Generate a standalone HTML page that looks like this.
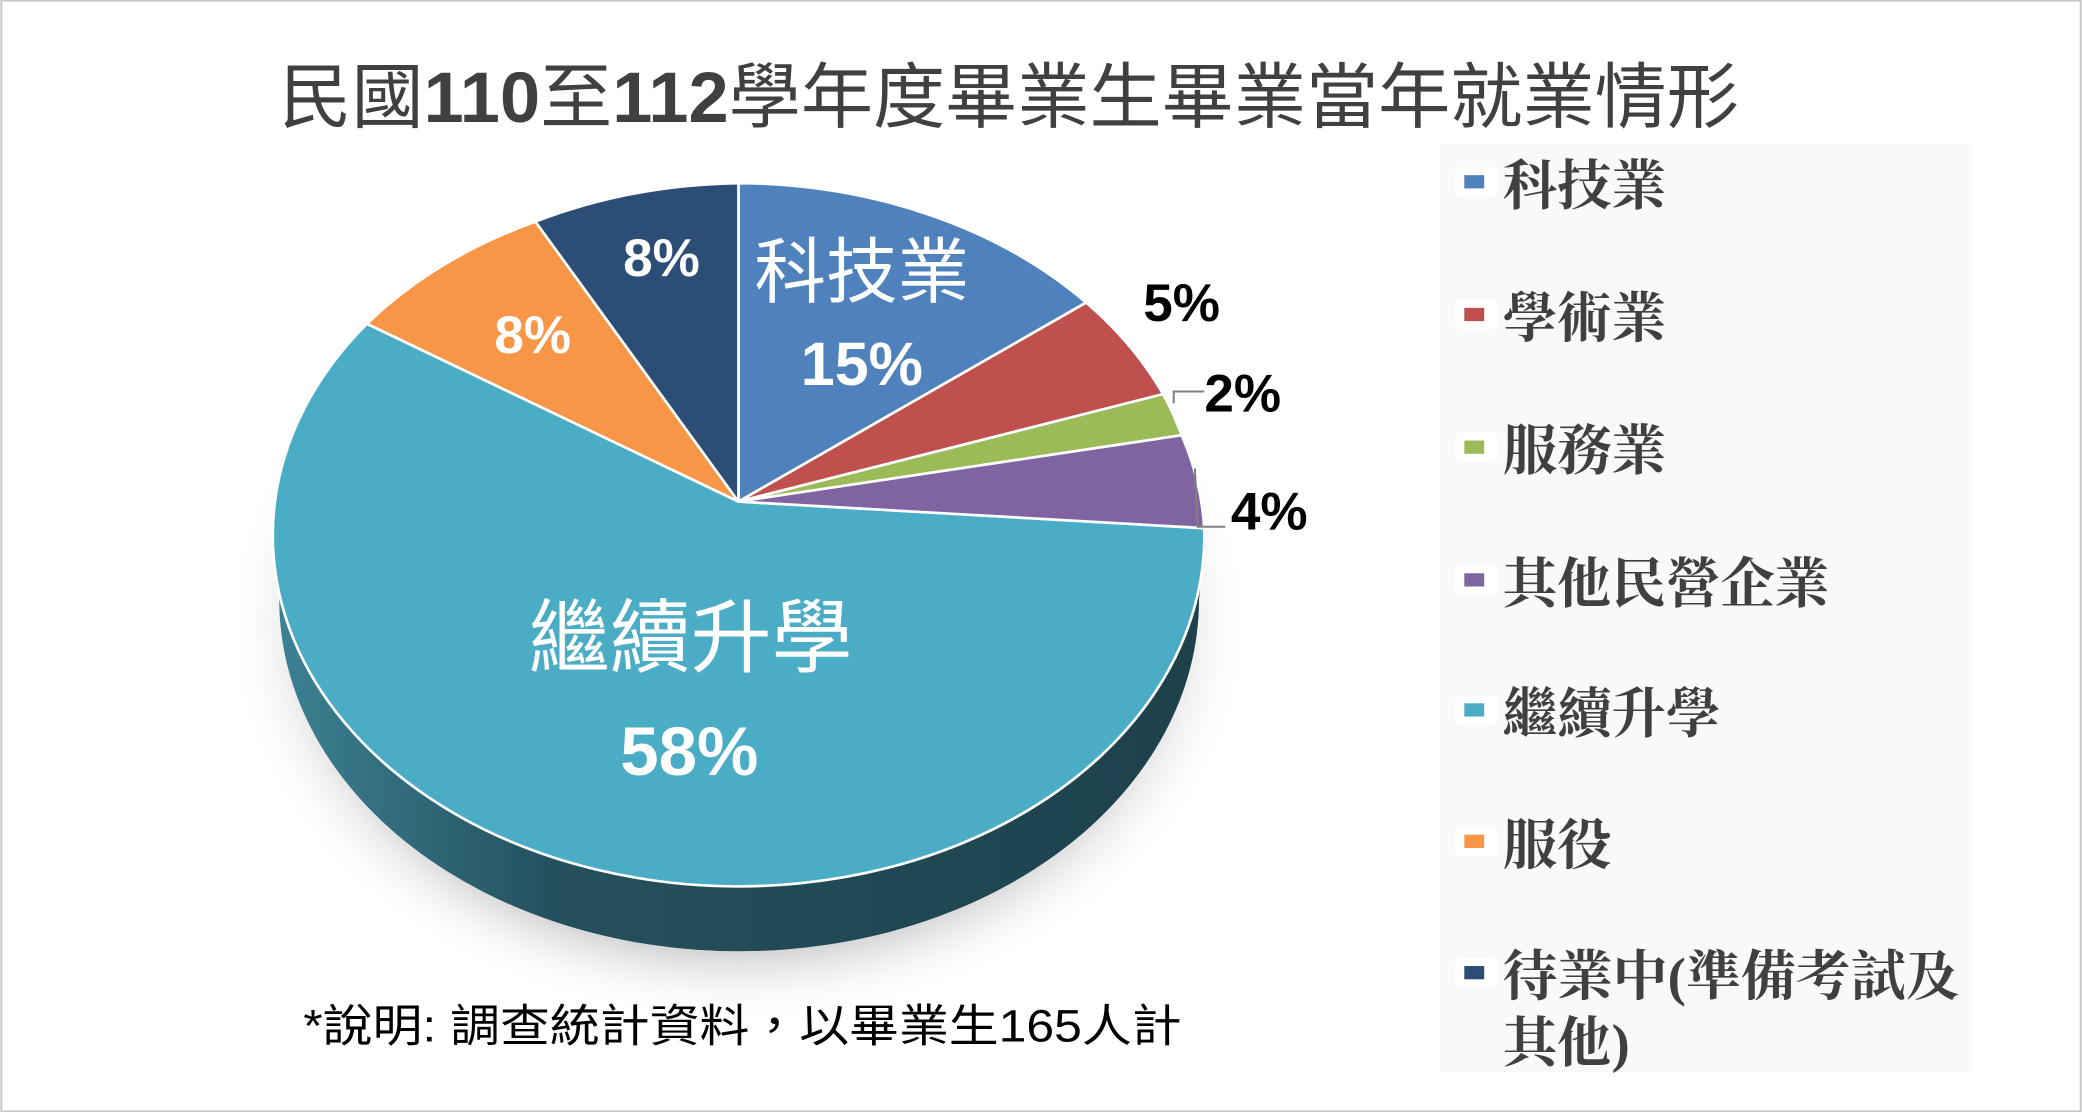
<!DOCTYPE html>
<html><head><meta charset="utf-8"><style>
html,body{margin:0;padding:0;background:#fff;}
svg{display:block;}
</style></head><body>
<svg width="2082" height="1112" viewBox="0 0 1568 838" xmlns="http://www.w3.org/2000/svg">
<defs>
<linearGradient id="side" x1="0" x2="1" y1="0" y2="0">
<stop offset="0" stop-color="#3d8294"/>
<stop offset="0.3" stop-color="#24505d"/>
<stop offset="1" stop-color="#1d414b"/>
</linearGradient>
<radialGradient id="shadow" cx="0.5" cy="0.5" r="0.5">
<stop offset="0.8" stop-color="#c8c8c8"/>
<stop offset="1" stop-color="#ffffff" stop-opacity="0"/>
</radialGradient>
</defs>
<rect x="0.5" y="0.5" width="1567" height="837" fill="#fff" stroke="#c8c8c8" stroke-width="1.5"/>
<text x="760" y="92" text-anchor="middle" textLength="1100" lengthAdjust="spacingAndGlyphs" font-family="'Liberation Sans','Noto Sans CJK TC',sans-serif" font-size="54" fill="#404040">民國<tspan font-weight="bold">110</tspan>至<tspan font-weight="bold">112</tspan>學年度畢業生畢業當年就業情形</text>

<ellipse cx="556" cy="470" rx="385" ry="300" fill="url(#shadow)"/>
<path d="M908,402 A351,264.5 0 0 1 205,402 L210,452 A346,264.5 0 0 0 903,452 Z" fill="url(#side)"/>
<path d="M205,402 A351,264.5 0 0 0 908,402 L903,452 A346,264.5 0 0 1 210,452 Z" fill="url(#side)"/>
<g stroke="#fff" stroke-width="2" stroke-linejoin="round">
<path d="M556,378 L907,398 A351,264.5 0 1 1 276,244 Z" fill="#4BACC6"/>
<path d="M556,378 L556,138 A351,264.5 0 0 1 818,228 Z" fill="#4F81BD"/>
<path d="M556,378 L818,228 A351,264.5 0 0 1 876,297 Z" fill="#C0504D"/>
<path d="M556,378 L876,297 A351,264.5 0 0 1 890,328 Z" fill="#9BBB59"/>
<path d="M556,378 L890,328 A351,264.5 0 0 1 907,398 Z" fill="#8064A2"/>
<path d="M556,378 L276,244 A351,264.5 0 0 1 403,167 Z" fill="#F79646"/>
<path d="M556,378 L403,167 A351,264.5 0 0 1 556,138 Z" fill="#2C4D75"/>
</g>
<polyline points="884,304 884,295 907,295" fill="none" stroke="#808080" stroke-width="1.5"/>
<polyline points="900,353 902,397 923,397" fill="none" stroke="#808080" stroke-width="1.5"/>

<g font-family="'Liberation Sans','Noto Sans CJK TC',sans-serif" font-weight="bold" text-anchor="middle">
<text x="649" y="224" font-size="54" font-weight="normal" fill="#fff">科技業</text>
<text x="649" y="290" font-size="46" fill="#fff">15%</text>
<text x="890" y="242" font-size="40" fill="#000">5%</text>
<text x="936" y="310" font-size="40" fill="#000">2%</text>
<text x="956" y="399" font-size="40" fill="#000">4%</text>
<text x="498" y="208" font-size="40" fill="#fff">8%</text>
<text x="401" y="266" font-size="40" fill="#fff">8%</text>
<text x="520" y="502" font-size="61" font-weight="normal" fill="#fff">繼續升學</text>
<text x="519" y="584" font-size="52" fill="#fff">58%</text>
</g>

<rect x="1085" y="108" width="400" height="700" fill="#f9f9f9"/>
<g font-family="'Liberation Serif','Noto Serif CJK TC',serif" font-weight="bold" font-size="41" fill="#404040">
<rect x="1096" y="126" width="32" height="22" fill="#fff" rx="3"/><rect x="1103" y="132" width="15" height="10" fill="#4F81BD"/>
<text x="1132" y="154">科技業</text>
<rect x="1096" y="226" width="32" height="22" fill="#fff" rx="3"/><rect x="1103" y="232" width="15" height="10" fill="#C0504D"/>
<text x="1132" y="254">學術業</text>
<rect x="1096" y="326" width="32" height="22" fill="#fff" rx="3"/><rect x="1103" y="332" width="15" height="10" fill="#9BBB59"/>
<text x="1132" y="354">服務業</text>
<rect x="1096" y="426" width="32" height="22" fill="#fff" rx="3"/><rect x="1103" y="432" width="15" height="10" fill="#8064A2"/>
<text x="1132" y="454">其他民營企業</text>
<rect x="1096" y="524" width="32" height="22" fill="#fff" rx="3"/><rect x="1103" y="530" width="15" height="10" fill="#4BACC6"/>
<text x="1132" y="552">繼續升學</text>
<rect x="1096" y="623" width="32" height="22" fill="#fff" rx="3"/><rect x="1103" y="629" width="15" height="10" fill="#F79646"/>
<text x="1132" y="651">服役</text>
<rect x="1096" y="722" width="32" height="22" fill="#fff" rx="3"/><rect x="1103" y="728" width="15" height="10" fill="#2C4D75"/>
<text x="1132" y="750" textLength="345" lengthAdjust="spacingAndGlyphs">待業中(準備考試及</text>
<text x="1132" y="800">其他)</text>
</g>

<text x="228" y="785" textLength="662" lengthAdjust="spacingAndGlyphs" font-family="'Liberation Sans','Noto Sans CJK TC',sans-serif" font-size="34" fill="#000">*說明: 調查統計資料，以畢業生165人計</text>
</svg>
</body></html>
